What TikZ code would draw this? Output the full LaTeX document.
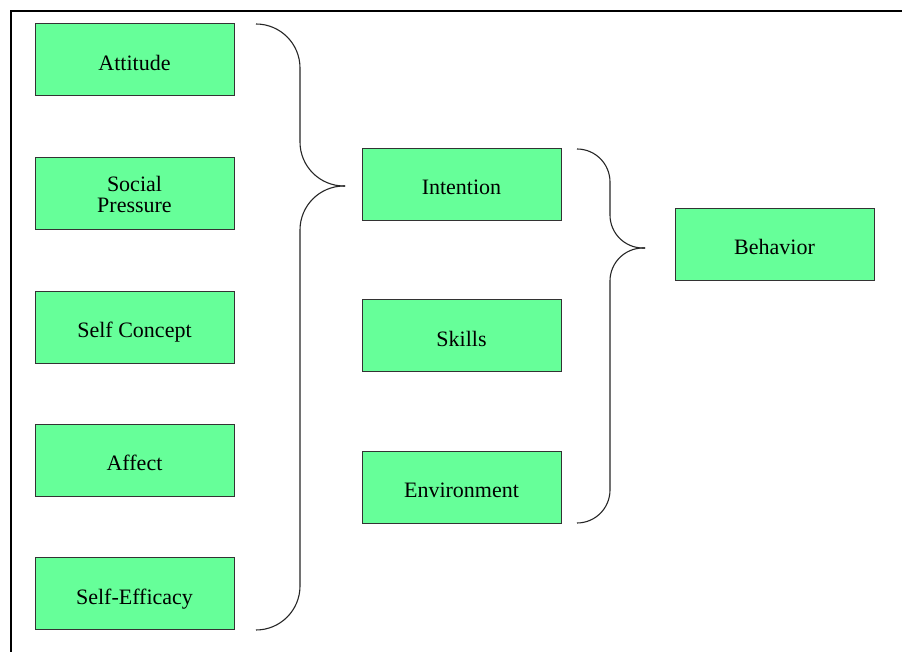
\documentclass[tikz,border=0pt]{standalone}
\usepackage{fontspec}
\setmainfont{Liberation Serif}
\definecolor{boxgreen}{HTML}{66FF99}
\definecolor{edgegray}{HTML}{333333}
\tikzset{
  factor/.style={draw=edgegray, line width=0.5pt, fill=boxgreen,
    minimum width=99.5pt, minimum height=36pt, inner sep=0pt,
    align=center, font=\fontsize{11}{10.5}\selectfont},
  oneline/.style={factor, text height=10.2pt, text depth=0pt},
  brace/.style={draw=black!85, line width=0.55pt},
}
\begin{document}
\begin{tikzpicture}[x=0.5pt, y=-0.5pt]
\useasboundingbox (0,0) rectangle (902,652);
% outer frame (open to the right and bottom)
\draw[line width=1pt] (11,652) -- (11,11) -- (902,11);

% left column
\node[oneline] (att) at (134.5,60) {Attitude};
\node[factor]  (soc) at (134.5,194) {Social\\Pressure};
\node[oneline] (sc)  at (134.5,327.5) {Self Concept};
\node[oneline] (aff) at (134.5,460.5) {Affect};
\node[oneline] (se)  at (134.5,594) {Self-Efficacy};

% middle column
\node[oneline] (int) at (461.5,184.5) {Intention};
\node[oneline] (sk)  at (461.5,336) {Skills};
\node[oneline] (env) at (461.5,487.5) {Environment};

% right column
\node[oneline] (beh) at (774.5,244.5) {Behavior};

% brace joining the left column into Intention
\coordinate (b1top) at (256,24);
\coordinate (b1bot) at (256,630);
\coordinate (b1tip) at (345,186);
\draw[brace, rounded corners=22pt] (b1top) -- (300,24) -- (300,186) -- (b1tip);
\draw[brace, rounded corners=22pt] (b1tip) -- (300,186) -- (300,630) -- (b1bot);

% brace joining the middle column into Behavior
\coordinate (b2top) at (577,149);
\coordinate (b2bot) at (577,523);
\coordinate (b2tip) at (645,248);
\draw[brace, rounded corners=16.5pt] (b2top) -- (610,149) -- (610,248) -- (b2tip);
\draw[brace, rounded corners=16.5pt] (b2tip) -- (610,248) -- (610,523) -- (b2bot);
\end{tikzpicture}
\end{document}
